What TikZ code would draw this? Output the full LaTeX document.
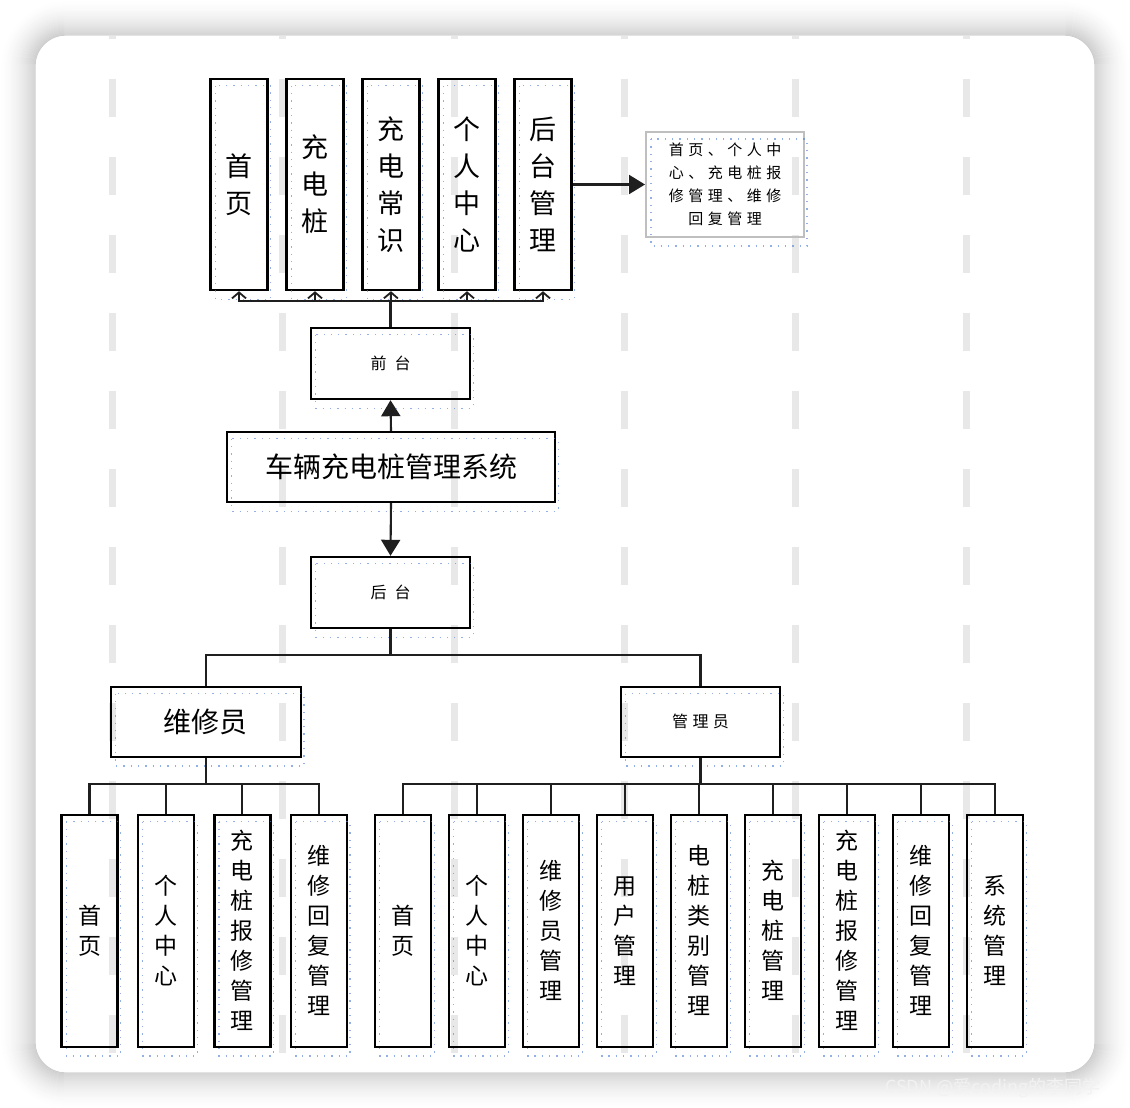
\documentclass[tikz,border=0pt]{standalone}
\usepackage{fontspec}
\setmainfont{Noto Sans CJK SC}
\usetikzlibrary{arrows.meta}
\definecolor{dotblue}{RGB}{90,135,215}
\newcommand\kk{\hspace{4.5pt}}
\newcommand\kq{\hspace{8pt}}
\newcommand\blu[1]{\draw[bluedots] ([xshift=6pt,yshift=-8pt]#1.north west) rectangle ([xshift=2pt,yshift=-8pt]#1.south east);}
\tikzset{
  bx/.style={draw=black, line width=2.4pt, inner sep=0pt, align=center},
  vt/.style={bx, minimum width=57pt, minimum height=211pt, font=\fontsize{27}{37}\selectfont},
  vb/.style={bx, minimum width=56pt, minimum height=232pt, font=\fontsize{23}{30}\selectfont},
  hs/.style={bx, minimum width=159pt, minimum height=71pt, font=\fontsize{16}{18}\selectfont},
  ln/.style={line width=2.1pt, draw=black!88},
  upar/.style={ln, -{Straight Barb[length=6pt,width=14pt,line width=1.8pt]}},
  tri/.style={ln, -{Triangle[length=16pt,width=19pt]}},
  bluedots/.style={draw=dotblue, opacity=0.65, line width=1.3pt, dash pattern=on 1.3pt off 6pt},
  graydash/.style={draw=black!9, line width=7pt, dash pattern=on 38pt off 40pt},
}
\begin{document}
\begin{tikzpicture}[x=1pt,y=-1pt]
\useasboundingbox (0,0) rectangle (1130,1108);
% shadow
\foreach \r in {1,...,36} {
  \pgfmathsetmacro\c{20*(1-\r/37)^1.7}
  \pgfmathsetmacro\rr{30+\r}
  \draw[line width=1.3pt, draw=black!\c, rounded corners=\rr pt] (36-\r,36-\r) rectangle (1094+\r,1072+\r);
}
% card
\fill[white, rounded corners=30pt] (36,36) rectangle (1094,1072);
% background dashes
\begin{scope}
\clip[rounded corners=30pt] (36,36) rectangle (1094,1072);
\foreach \x in {112,282,454,624,795,966} {
  \draw[graydash] (\x,1) -- (\x,1072);
}
\end{scope}
% watermark
\node[anchor=base west, inner sep=0pt, font=\fontsize{18}{18}\selectfont, text=white!95!black] (wm) at (885,1093) {CSDN @爱coding的李同学};

% top row
\node[vt] (t1) at (239,184.5) {首\\页};
\node[vt] (t2) at (315,184.5) {充\\电\\桩};
\node[vt] (t3) at (391,184.5) {充\\电\\常\\识};
\node[vt] (t4) at (467,184.5) {个\\人\\中\\心};
\node[vt] (t5) at (543,184.5) {后\\台\\管\\理};
\node[bx, line width=2pt, minimum width=158pt, minimum height=105pt, font=\fontsize{15}{23}\selectfont, draw=black!25] (rb) at (725,184.5)
  {首\kk{}页\kk{}、\kk{}个\kk{}人\kk{}中\\心\kk{}、\kk{}充\kk{}电\kk{}桩\kk{}报\\修\kk{}管\kk{}理\kk{}、\kk{}维\kk{}修\\回\kk{}复\kk{}管\kk{}理};

\node[hs] (qt) at (390.5,363.5) {前\kq{}台};
\node[bx, minimum width=328pt, minimum height=70pt, font=\fontsize{28}{30}\selectfont] (sys) at (391,467) {车辆充电桩管理系统};
\node[hs] (ht) at (390.5,592.5) {后\kq{}台};

\node[bx, minimum width=190pt, minimum height=70pt, font=\fontsize{28}{30}\selectfont] (wx) at (205.7,721.7) {维修员};
\node[hs, minimum height=70pt] (gl) at (700.5,721.7) {管\kk{}理\kk{}员};

% repairman children
\node[vb] (w1) at (89.5,930.7) {首\\页};
\node[vb] (w2) at (166,930.7) {个\\人\\中\\心};
\node[vb] (w3) at (242.3,930.7) {充\\电\\桩\\报\\修\\管\\理};
\node[vb] (w4) at (318.8,930.7) {维\\修\\回\\复\\管\\理};

% admin children
\node[vb] (a1) at (403,930.7) {首\\页};
\node[vb] (a2) at (477,930.7) {个\\人\\中\\心};
\node[vb] (a3) at (551,930.7) {维\\修\\员\\管\\理};
\node[vb] (a4) at (625,930.7) {用\\户\\管\\理};
\node[vb] (a5) at (699,930.7) {电\\桩\\类\\别\\管\\理};
\node[vb] (a6) at (773,930.7) {充\\电\\桩\\管\\理};
\node[vb] (a7) at (847,930.7) {充\\电\\桩\\报\\修\\管\\理};
\node[vb] (a8) at (921,930.7) {维\\修\\回\\复\\管\\理};
\node[vb] (a9) at (995,930.7) {系\\统\\管\\理};

% blue dotted artifacts
\foreach \n in {t1,t2,t3,t4,t5,rb,qt,sys,ht,wx,gl,w1,w2,w3,w4,a1,a2,a3,a4,a5,a6,a7,a8,a9} {\blu{\n}}

% connectors top
\foreach \n in {t1,t2,t4,t5} {
  \draw[upar] (qt.north) -- ++(0,-25.5) -| (\n.south);
}
\draw[upar] (qt.north) -- (t3.south);
\draw[tri] (t5.east) -- (rb.west);
\draw[tri] (sys.north) -- (qt.south);
\draw[tri] (sys.south) -- (ht.north);

% backend tree
\draw[ln] (ht.south) -- ++(0,25.5) -| (wx.north);
\draw[ln] (ht.south) -- ++(0,25.5) -| (gl.north);
\foreach \n in {w1,w2,w3,w4} {
  \draw[ln] (wx.south) -- ++(0,26) -| (\n.north);
}
\foreach \n in {a1,a2,a3,a4,a5,a6,a7,a8,a9} {
  \draw[ln] (gl.south) -- ++(0,26.5) -| (\n.north);
}
\end{tikzpicture}
\end{document}
